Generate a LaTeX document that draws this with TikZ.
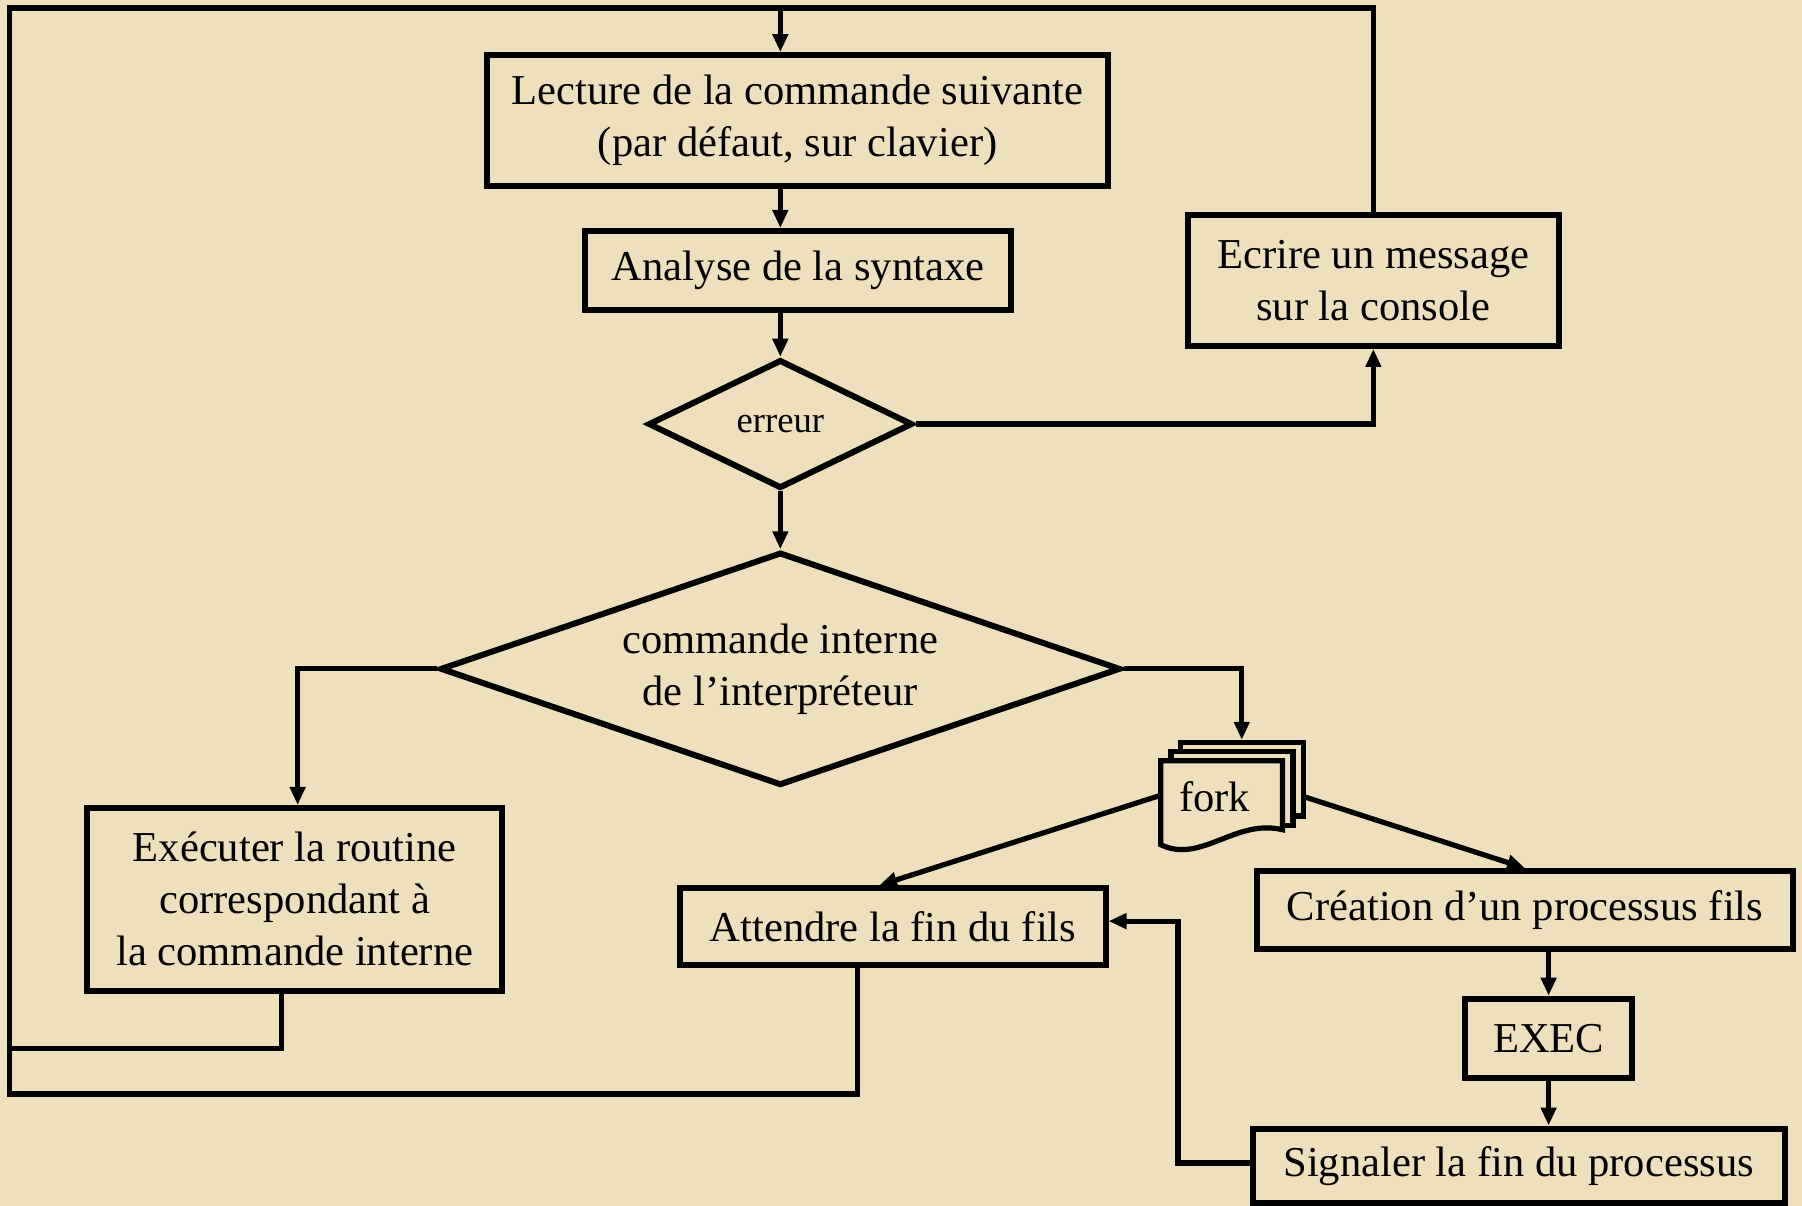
\documentclass[tikz,border=0pt]{standalone}
\usepackage{fontspec}
\setmainfont{Liberation Serif}
\usetikzlibrary{shapes.geometric,arrows.meta,calc}
\definecolor{parch}{RGB}{238,224,188}
\begin{document}
\begin{tikzpicture}[x=0.575pt,y=-0.575pt,
  txt/.style={font=\fontsize{21.3}{26}\selectfont},
  box/.style={txt,draw,line width=3pt,inner sep=0pt,align=center},
  dia/.style={txt,draw,diamond,line width=3pt,inner sep=0pt,align=center},
  layer/.style={draw,line width=2.6pt,fill=parch,inner sep=0pt},
  con/.style={line width=2.6pt},
  arr/.style={con,-{Triangle[length=9pt,width=7.5pt]}},
]
\fill[parch] (0,0) rectangle (1568,1049);
\useasboundingbox (0,0) rectangle (1568,1049);

% nodes
\node[box,minimum width=310.5pt,minimum height=65.6pt] (lect) at (694,105) {Lecture de la commande suivante\\(par défaut, sur clavier)};
\node[box,minimum width=213.3pt,minimum height=39.7pt] (anal) at (694.5,235.5) {Analyse de la syntaxe};
\node[dia,shape aspect=2,minimum width=132.3pt,minimum height=64.4pt,font=\fontsize{18.3}{22}\selectfont] (err) at (679,369) {erreur};
\node[box,minimum width=185.7pt,minimum height=65.6pt] (ecr) at (1195,244) {Ecrire un message\\sur la console};
\node[dia,shape aspect=3,minimum width=340.4pt,minimum height=116.7pt] (cmd) at (679,582) {commande interne\\de l’interpréteur};
\node[box,minimum width=207.6pt,minimum height=91.4pt] (exe) at (256.5,782.5) {Exécuter la routine\\correspondant à\\la commande interne};
\node[box,minimum width=212.75pt,minimum height=38.5pt] (att) at (777,806.5) {Attendre la fin du fils};
\node[box,minimum width=268pt,minimum height=39.1pt] (cre) at (1327,792) {Création d’un processus fils};
\node[box,minimum width=83.4pt,minimum height=39.7pt] (exec) at (1347.5,903.5) {EXEC};
\node[box,minimum width=266.2pt,minimum height=37.4pt] (sig) at (1321.5,1014.5) {Signaler la fin du processus};

% fork (stacked documents)
\node[layer,minimum width=61.5pt,minimum height=36.8pt] (fk3) at (1080.5,678) {};
\node[layer,minimum width=61pt,minimum height=36.8pt] (fk2) at (1072,686) {};
\draw[line width=2.6pt,fill=parch] (1010,662) -- (1116,662) -- (1116,722)
  .. controls (1075,712) and (1045,752) .. (1010,735) -- cycle;
\node[txt] (fork) at (1057,693) {fork};
\coordinate (fkL) at (1010,692);
\coordinate (fkR) at (1134,693);

% loop corner coordinates
\coordinate (tl) at (8,7);
\coordinate (bl) at (8,952);
\coordinate (ml) at (8,912);
\coordinate (tm) at (679,7);
\coordinate (sw) at (1025,1012);

% connectors
\draw[arr] (tm) -- (tm |- lect.north);
\draw[arr] (err.north |- lect.south) -- (err.north |- anal.north);
\draw[arr] (err.north |- anal.south) -- (err.north);
\draw[arr] (err.east) -| (ecr.south);
\draw[con] (ecr.north) |- (tm);
\draw[arr] (err.south) -- (cmd.north);
\draw[arr] (cmd.west) -| ($(exe.north)+(2.5,0)$);
\draw[arr] (cmd.east) -| (fk3.north);
\draw[con] ($(exe.south)+(-11.5,0)$) |- (ml);
\draw[con,line join=miter] ($(att.south)+(-31,0)$) |- (bl) -- (tl) -- (tm);
\draw[arr] (fkL) -- ($(att.north)+(-12,0)$);
\draw[arr] (fkR) -- (cre.north);
\draw[arr] (exec.north |- cre.south) -- (exec.north);
\draw[arr] (exec.south) -- (exec.south |- sig.north);
\draw[arr] (sig.west |- sw) -- (sw) |- ($(att.east)+(0,-5)$);
\end{tikzpicture}
\end{document}
